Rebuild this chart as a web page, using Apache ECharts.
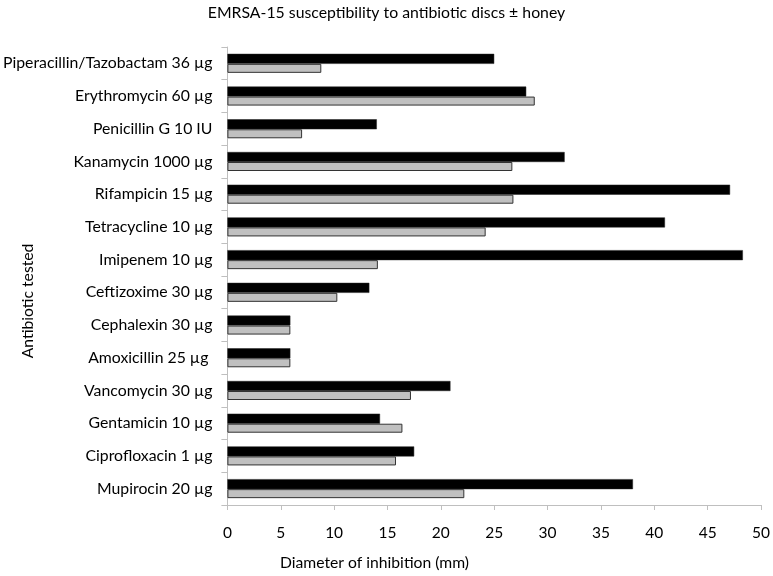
<!DOCTYPE html>
<html>
<head>
<meta charset="utf-8">
<script src="https://cdn.jsdelivr.net/npm/echarts@6/dist/echarts.min.js"></script>
<style>html,body{margin:0;padding:0;background:#fff}#c{width:773px;height:576px}</style>
</head>
<body>
<div id="c"></div>
<script>
var categories = ["Piperacillin/Tazobactam 36 µg","Erythromycin 60 µg","Penicillin G 10 IU","Kanamycin 1000 µg","Rifampicin 15 µg","Tetracycline 10 µg","Imipenem 10 µg","Ceftizoxime 30 µg","Cephalexin 30 µg","Amoxicillin 25 µg ","Vancomycin 30 µg","Gentamicin 10 µg","Ciprofloxacin 1 µg","Mupirocin 20 µg"];
var blackValues = [25.0, 28.0, 14.0, 31.6, 47.1, 41.0, 48.3, 13.3, 5.9, 5.9, 20.9, 14.3, 17.5, 38.0];
var grayValues  = [8.8, 28.8, 7.0, 26.7, 26.8, 24.2, 14.1, 10.3, 5.9, 5.9, 17.2, 16.4, 15.8, 22.2];
var xTicks = {min: 0, max: 50, interval: 5};
var titleText = "EMRSA-15 susceptibility to antibiotic discs ± honey";
var xName = "Diameter of inhibition (mm)";
var yName = "Antibiotic tested";

var FONT = "Lato";
var chart = echarts.init(document.getElementById('c'), null, {renderer: 'canvas'});
chart.setOption({
  animation: false,
  backgroundColor: '#ffffff',
  title: {
    text: titleText, left: 'center', top: 0,
    textStyle: {fontFamily: FONT, fontSize: 15.8, fontWeight: 'normal', color: '#000'}
  },
  grid: {left: 227, right: 11, top: 47, bottom: 71, containLabel: false},
  xAxis: {
    type: 'value', min: xTicks.min, max: xTicks.max, interval: xTicks.interval,
    axisLine: {show: true, lineStyle: {color: '#bfbfbf', width: 1}},
    axisTick: {show: true, length: 5, lineStyle: {color: '#bfbfbf'}},
    splitLine: {show: false},
    axisLabel: {margin: 20, fontFamily: FONT, fontSize: 15.5, color: '#000'}
  },
  yAxis: {
    type: 'category', data: categories, inverse: true,
    axisLine: {show: true, lineStyle: {color: '#bfbfbf', width: 1}},
    axisTick: {show: true, length: 6, lineStyle: {color: '#bfbfbf'}},
    axisLabel: {margin: 15, fontFamily: FONT, fontSize: 15.8, color: '#000'}
  },
  graphic: [
    {type: 'text', left: 280, top: 555, style: {text: xName, font: '15.7px ' + FONT, fill: '#000'}},
    {type: 'text', x: 20, y: 301, rotation: Math.PI / 2, style: {text: yName, font: '15.7px ' + FONT, fill: '#000', align: 'center', verticalAlign: 'top'}}
  ],
  series: [
    {type: 'bar', data: blackValues, barWidth: 10, barGap: '0%',
     itemStyle: {color: '#000000', borderColor: '#222', borderWidth: 0.5}},
    {type: 'bar', data: grayValues, barWidth: 9, barGap: '0%',
     itemStyle: {color: '#c0c0c0', borderColor: '#333', borderWidth: 1}}
  ]
});
</script>
</body>
</html>
